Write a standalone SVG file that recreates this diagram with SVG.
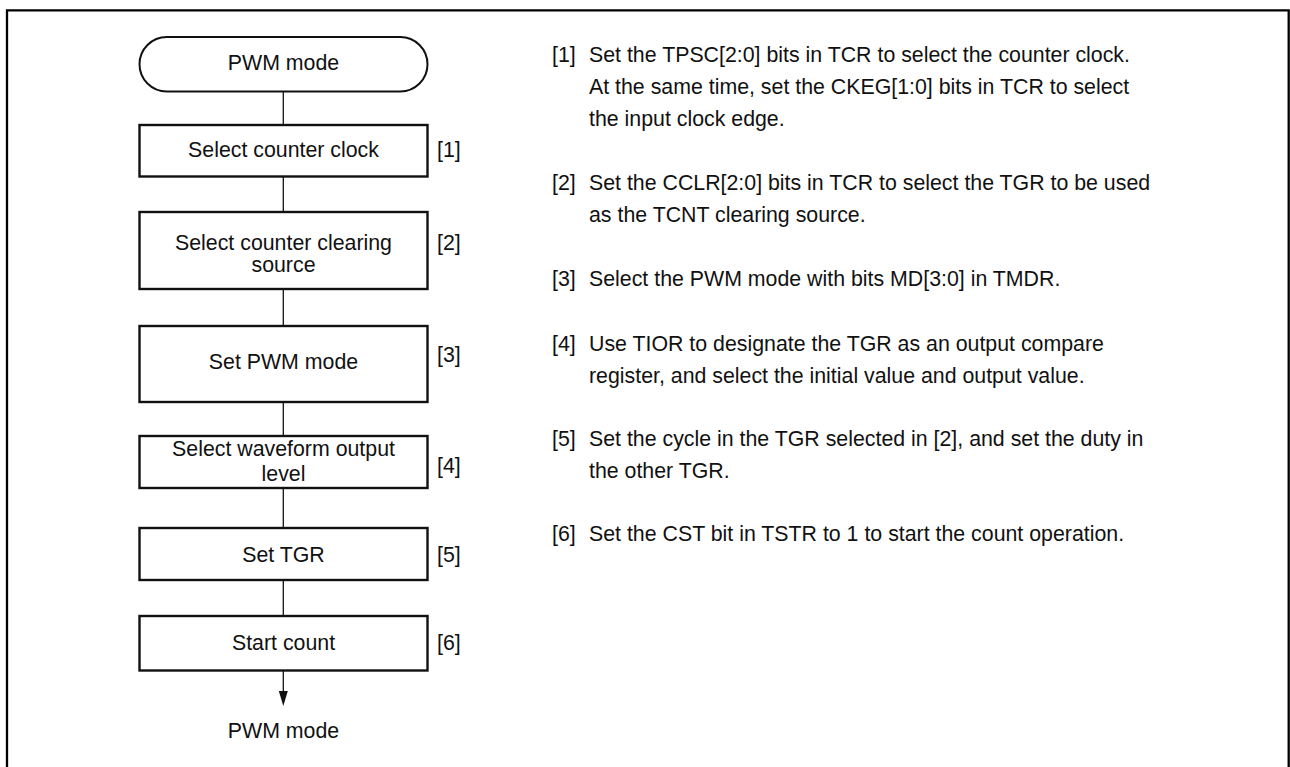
<svg xmlns="http://www.w3.org/2000/svg" width="1290" height="767" viewBox="0 0 1290 767">
<defs>
<style>
text{font-family:"Liberation Sans",Arial,sans-serif;font-size:21.33px;fill:#111;}
.c{text-anchor:middle;}
.box{fill:#fff;stroke:#111;stroke-width:2.4;}
.term{fill:#fff;stroke:#111;stroke-width:2;}
.conn{stroke:#111;stroke-width:1.3;fill:none;}
</style>
</defs>
<rect x="0" y="0" width="1290" height="767" fill="#fff"/>
<path d="M7,767 V10.3 H1288.7 V767" fill="none" stroke="#000" stroke-width="2.3"/>
<g id="connectors">
<line class="conn" x1="283.3" y1="92" x2="283.3" y2="125"/>
<line class="conn" x1="283.3" y1="176" x2="283.3" y2="212"/>
<line class="conn" x1="283.3" y1="289" x2="283.3" y2="326"/>
<line class="conn" x1="283.3" y1="402" x2="283.3" y2="436"/>
<line class="conn" x1="283.3" y1="488" x2="283.3" y2="528"/>
<line class="conn" x1="283.3" y1="580" x2="283.3" y2="616"/>
<line class="conn" x1="283.3" y1="670" x2="283.3" y2="692"/>
<polygon points="278.8,691 287.8,691 283.3,706" fill="#111"/>
</g>
<g id="start">
<rect class="term" x="139.5" y="37" width="288" height="54.5" rx="27.25" ry="27.25"/>
<text class="c" x="283.5" y="69.5">PWM mode</text>
</g>
<g id="step1">
<rect class="box" x="139.5" y="125" width="288" height="51.5"/>
<text class="c" x="283.5" y="157">Select counter clock</text>
<text x="437" y="157">[1]</text>
</g>
<g id="step2">
<rect class="box" x="139.5" y="212" width="288" height="77"/>
<text class="c" x="283.5" y="250">Select counter clearing</text>
<text class="c" x="283.5" y="272">source</text>
<text x="437" y="250">[2]</text>
</g>
<g id="step3">
<rect class="box" x="139.5" y="326" width="288" height="76"/>
<text class="c" x="283.5" y="369">Set PWM mode</text>
<text x="437" y="361.5">[3]</text>
</g>
<g id="step4">
<rect class="box" x="139.5" y="436" width="288" height="52"/>
<text class="c" x="283.5" y="456">Select waveform output</text>
<text class="c" x="283.5" y="481">level</text>
<text x="437" y="472.5">[4]</text>
</g>
<g id="step5">
<rect class="box" x="139.5" y="528" width="288" height="52"/>
<text class="c" x="283.5" y="562">Set TGR</text>
<text x="437" y="562">[5]</text>
</g>
<g id="step6">
<rect class="box" x="139.5" y="616" width="288" height="54.5"/>
<text class="c" x="283.5" y="650">Start count</text>
<text x="437" y="650">[6]</text>
</g>
<g id="end">
<text class="c" x="283.5" y="738">PWM mode</text>
</g>
<g id="notes">
<text x="552" y="62">[1]</text>
<text x="589" y="62">Set the TPSC[2:0] bits in TCR to select the counter clock.</text>
<text x="589" y="94">At the same time, set the CKEG[1:0] bits in TCR to select</text>
<text x="589" y="126">the input clock edge.</text>
<text x="552" y="190">[2]</text>
<text x="589" y="190">Set the CCLR[2:0] bits in TCR to select the TGR to be used</text>
<text x="589" y="221.5">as the TCNT clearing source.</text>
<text x="552" y="286">[3]</text>
<text x="589" y="286">Select the PWM mode with bits MD[3:0] in TMDR.</text>
<text x="552" y="351">[4]</text>
<text x="589" y="351">Use TIOR to designate the TGR as an output compare</text>
<text x="589" y="382.5">register, and select the initial value and output value.</text>
<text x="552" y="446">[5]</text>
<text x="589" y="446">Set the cycle in the TGR selected in [2], and set the duty in</text>
<text x="589" y="478">the other TGR.</text>
<text x="552" y="541">[6]</text>
<text x="589" y="541">Set the CST bit in TSTR to 1 to start the count operation.</text>
</g>
</svg>
